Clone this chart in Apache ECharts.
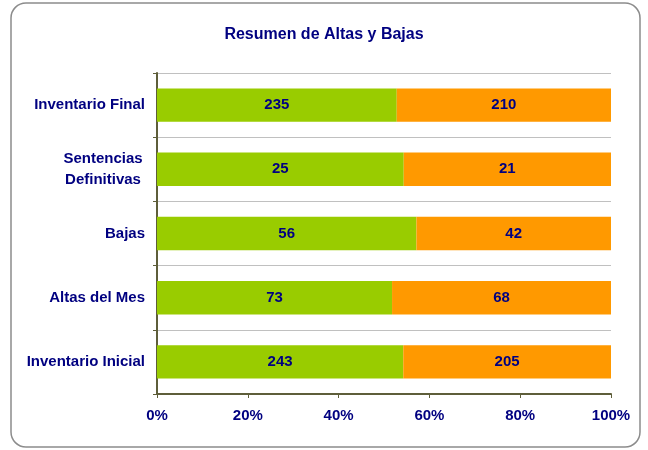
<!DOCTYPE html>
<html>
<head>
<meta charset="utf-8">
<title>Resumen de Altas y Bajas</title>
<script src="https://cdn.jsdelivr.net/npm/echarts@6/dist/echarts.min.js"></script>
<style>
  html, body { margin: 0; padding: 0; background: #fff; }
  #chart { width: 648px; height: 450px; }
</style>
</head>
<body>
<div id="chart"></div>
<script>
// categorias (de abajo hacia arriba, como en el eje)
var categories = ['Inventario Inicial', 'Altas del Mes', 'Bajas', 'Sentencias\nDefinitivas', 'Inventario Final'];
// primera serie (verde) y segunda serie (naranja)
var verdeValues = [243, 73, 56, 25, 235];
var naranjaValues = [205, 68, 42, 21, 210];
var xTickLabels = ['0%', '20%', '40%', '60%', '80%', '100%'];

var navy = '#000080';

// 100% apilado: el valor es el porcentaje, la etiqueta muestra el valor real
function toPercent(vals, other) {
  return vals.map(function (v, i) {
    return { value: v / (v + other[i]) * 100, raw: v };
  });
}

var chart = echarts.init(document.getElementById('chart'));

var option = {
  animation: false,
  textStyle: { fontFamily: '"Liberation Sans", Arial, sans-serif' },
  title: {
    text: 'Resumen de Altas y Bajas',
    left: 'center',
    top: 22,
    textStyle: { color: navy, fontSize: 16, fontWeight: 'bold' }
  },
  // borde redondeado del grafico
  graphic: [{
    type: 'rect',
    shape: { x: 11, y: 3, width: 629, height: 444, r: 15 },
    style: { fill: 'none', stroke: '#8c8c8c', lineWidth: 1.5 },
    silent: true
  }],
  grid: { left: 157, right: 37, top: 73, bottom: 56 },
  xAxis: {
    type: 'value',
    min: 0,
    max: 100,
    interval: 20,
    axisLine: { show: true, lineStyle: { color: '#5e5e3a', width: 2 } },
    axisTick: { show: true, length: 4, lineStyle: { color: '#5e5e3a' } },
    splitLine: { show: false },
    axisLabel: {
      margin: 14,
      color: navy,
      fontSize: 15,
      fontWeight: 'bold',
      formatter: function (v) { return xTickLabels[Math.round(v / 20)]; }
    }
  },
  yAxis: {
    type: 'category',
    data: categories,
    axisLine: { show: true, lineStyle: { color: '#5e5e3a', width: 2 } },
    axisTick: { show: true, length: 4, lineStyle: { color: '#5e5e3a' } },
    splitLine: { show: true, lineStyle: { color: '#c0c0c0', width: 1 } },
    axisLabel: {
      margin: 12,
      color: navy,
      fontSize: 15,
      fontWeight: 'bold',
      formatter: function (v) {
        if (v.indexOf('\n') < 0) return v;
        return v.split('\n').map(function (s) { return '{c|' + s + '}'; }).join('\n');
      },
      rich: {
        c: { width: 84, align: 'center', color: navy, fontSize: 15, fontWeight: 'bold', lineHeight: 21 }
      }
    }
  },
  series: [
    {
      type: 'bar',
      stack: 'total',
      barCategoryGap: '48%',
      data: toPercent(verdeValues, naranjaValues),
      itemStyle: { color: '#99cc00' },
      label: {
        show: true,
        position: 'inside',
        color: navy,
        fontSize: 15,
        fontWeight: 'bold',
        formatter: function (p) { return p.data.raw; }
      }
    },
    {
      type: 'bar',
      stack: 'total',
      barCategoryGap: '48%',
      data: toPercent(naranjaValues, verdeValues),
      itemStyle: { color: '#ff9900' },
      label: {
        show: true,
        position: 'inside',
        color: navy,
        fontSize: 15,
        fontWeight: 'bold',
        formatter: function (p) { return p.data.raw; }
      }
    }
  ]
};

chart.setOption(option);
</script>
</body>
</html>
